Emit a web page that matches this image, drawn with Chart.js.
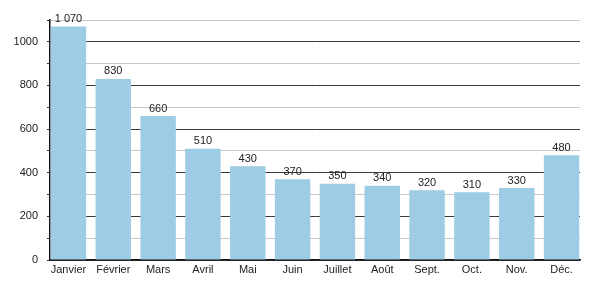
<!DOCTYPE html>
<html>
<head>
<meta charset="utf-8">
<script src="https://cdn.jsdelivr.net/npm/chart.js@4/dist/chart.umd.min.js"></script>
<style>
  body { margin: 0; background: #fff; }
  #chart { display: block; }
</style>
</head>
<body>
<canvas id="chart" width="600" height="300"></canvas>
<script>
const months = ['Janvier', 'Février', 'Mars', 'Avril', 'Mai', 'Juin',
    'Juillet', 'Août', 'Sept.', 'Oct.', 'Nov.', 'Déc.'];
const values = [1070, 830, 660, 510, 430, 370, 350, 340, 320, 310, 330, 480];

// value labels above the bars, french thousands separator
const valueLabels = {
    id: 'valueLabels',
    afterDatasetsDraw(chart) {
        const ctx = chart.ctx;
        const meta = chart.getDatasetMeta(0);
        ctx.save();
        ctx.font = '11px "Liberation Sans", Arial, sans-serif';
        ctx.fillStyle = '#222';
        ctx.textAlign = 'center';
        ctx.textBaseline = 'bottom';
        meta.data.forEach((bar, i) => {
            const v = values[i];
            const txt = v >= 1000 ? Math.floor(v / 1000) + ' ' + String(v % 1000).padStart(3, '0') : String(v);
            ctx.fillText(txt, bar.x, bar.y - 2);
        });
        ctx.restore();
    }
};

const font = { family: '"Liberation Sans", Arial, sans-serif', size: 11 };

new Chart(document.getElementById('chart'), {
    type: 'bar',
    data: {
        labels: months,
        datasets: [{
            data: values,
            backgroundColor: '#9dcce4',
            borderWidth: 0,
            categoryPercentage: 1,
            barPercentage: 0.79
        }]
    },
    options: {
        responsive: false,
        animation: false,
        layout: { padding: { top: 20, right: 20, left: 0, bottom: 0 } },
        plugins: { legend: { display: false }, tooltip: { enabled: false } },
        scales: {
            x: {
                grid: { display: false, drawTicks: false },
                border: { color: '#111', width: 1.5 },
                ticks: { color: '#222', font: font, padding: 3, maxRotation: 0 },
                afterFit(scale) {
                    scale.height = 40;
                    // first and last bars sit right against the plot edges
                    scale._startValue = -0.412;
                    scale._valueRange = 11.824;
                }
            },
            y: {
                min: 0,
                max: 1100,
                border: { color: '#111', width: 1.5 },
                grid: {
                    color: ctx => (ctx.tick && ctx.tick.value % 200 === 0) ? '#3a3a3a' : '#c8c8c8',
                    lineWidth: 1,
                    tickLength: 3,
                    tickColor: '#333'
                },
                ticks: {
                    stepSize: 100,
                    color: '#222',
                    font: font,
                    padding: 9,
                    callback: v => (v % 200 === 0 ? String(v) : '')
                },
                afterFit(scale) { scale.width = 50; }
            }
        }
    },
    plugins: [valueLabels]
});
</script>
</body>
</html>
